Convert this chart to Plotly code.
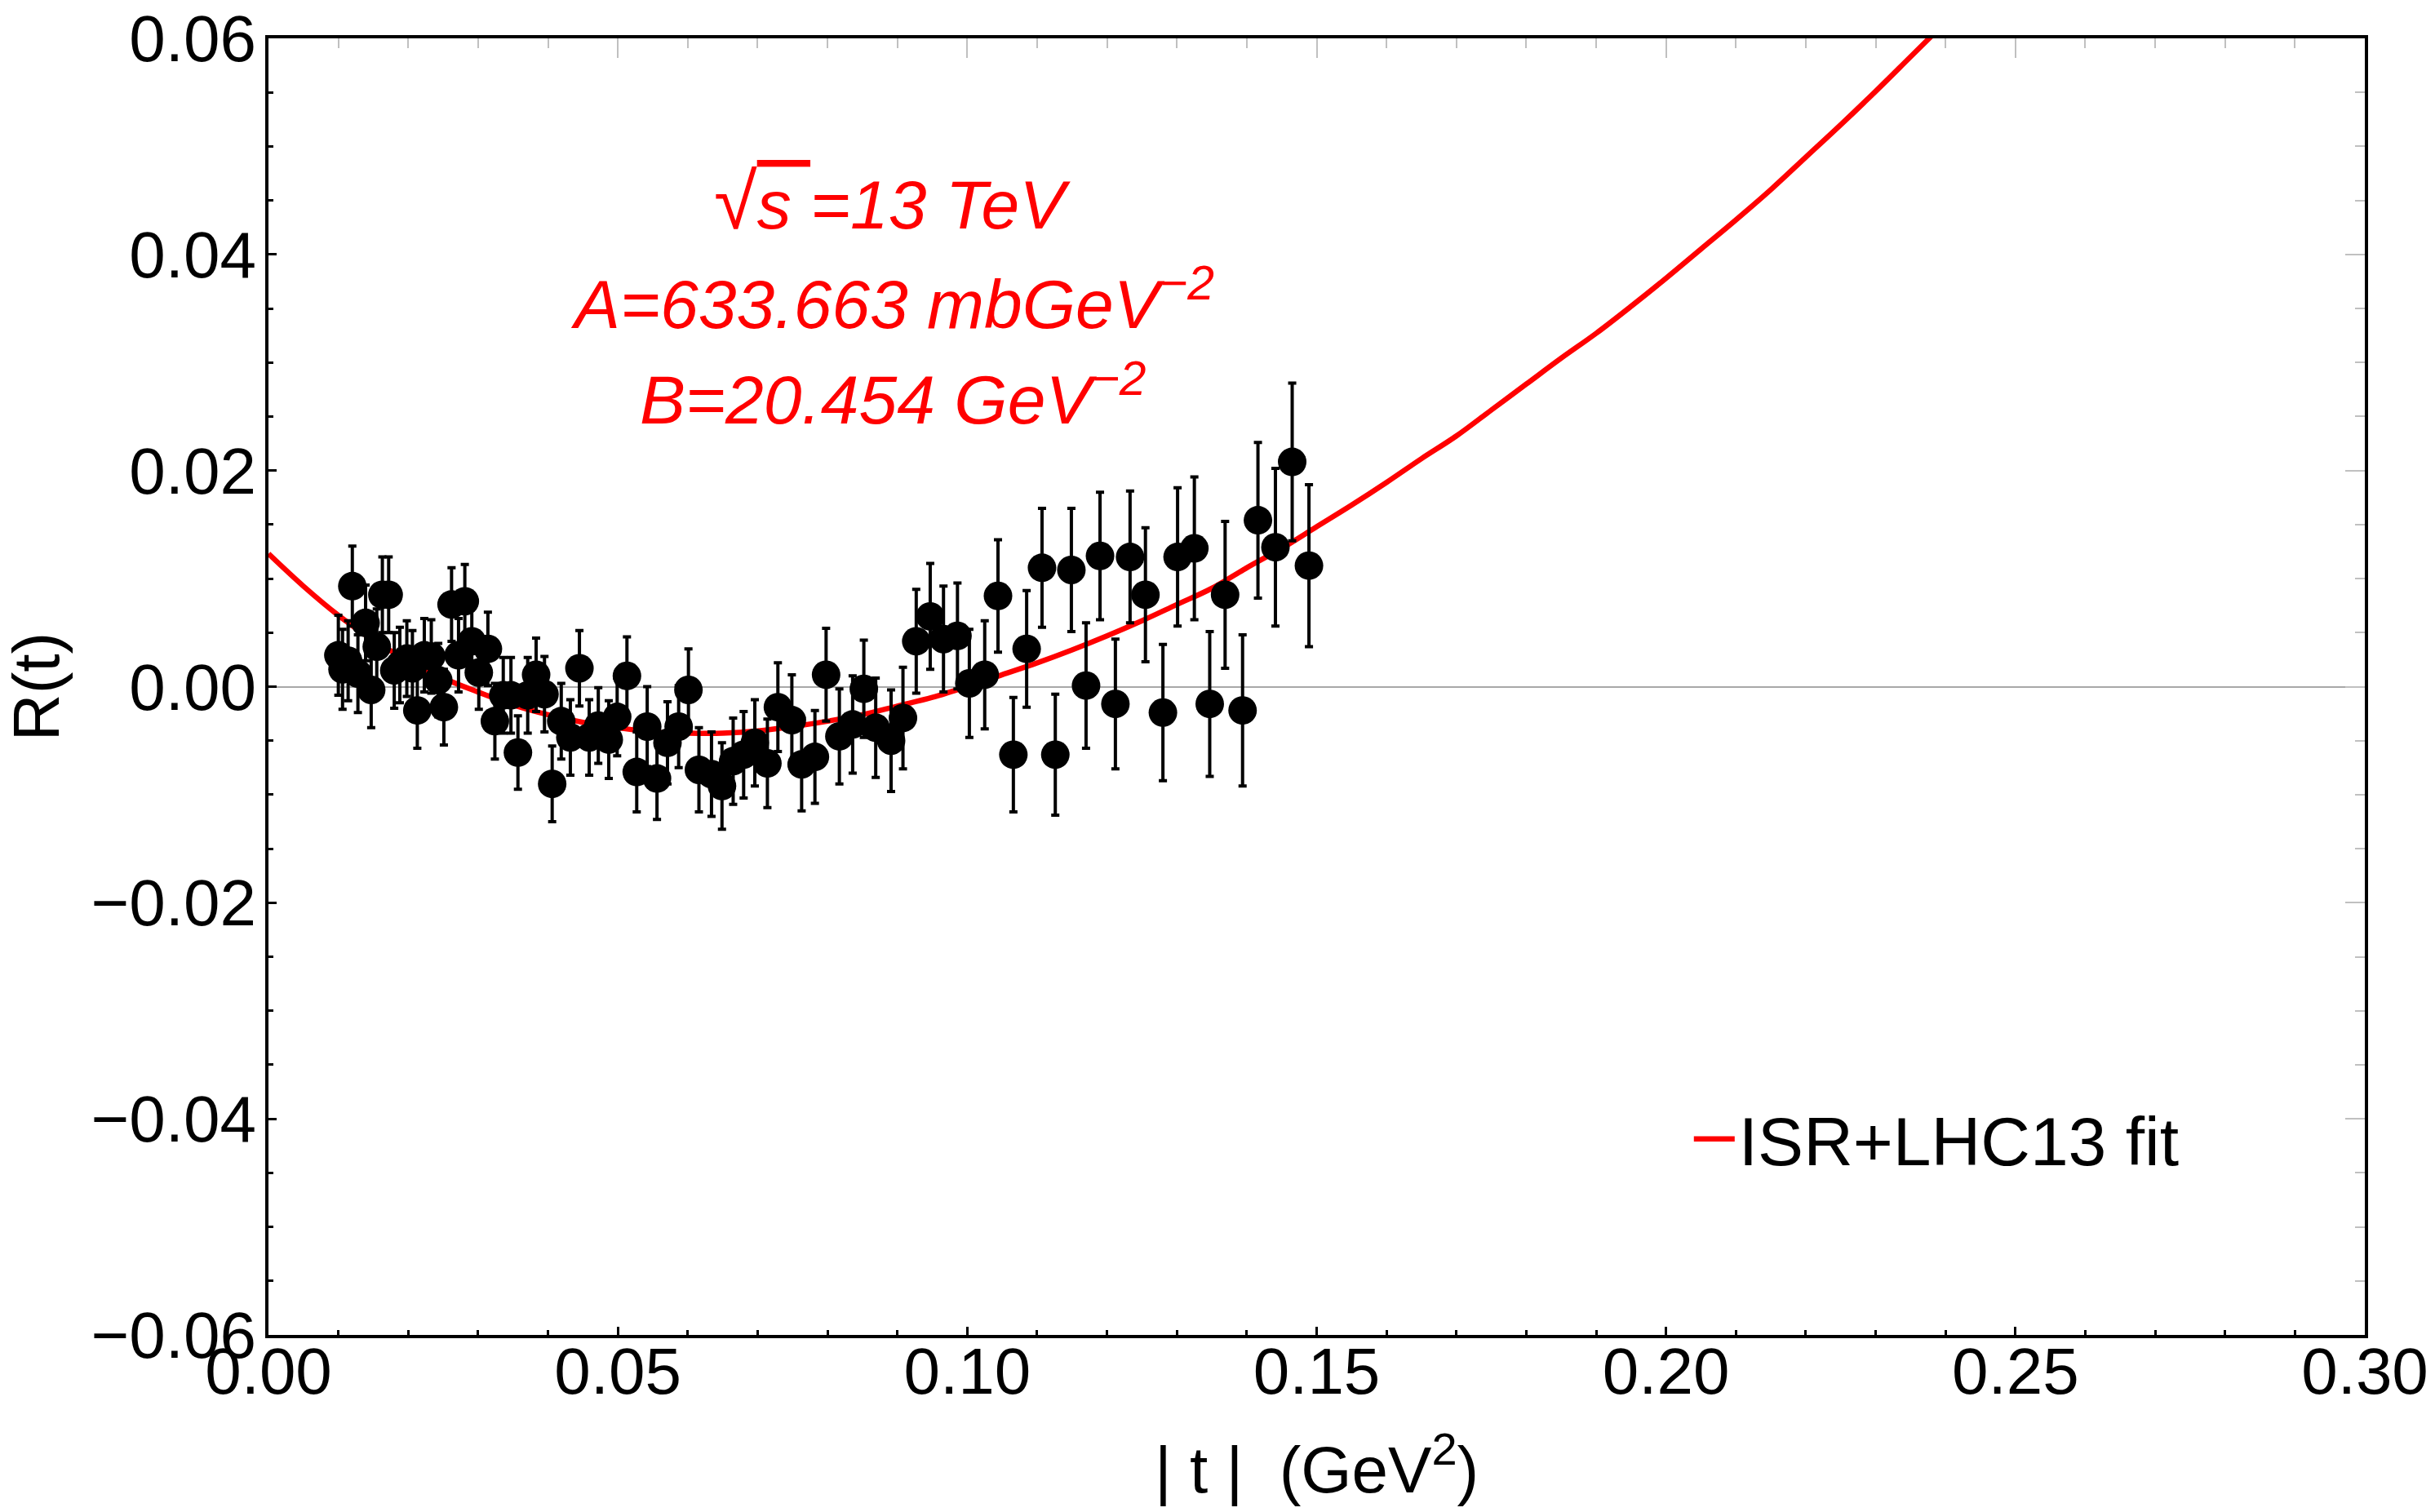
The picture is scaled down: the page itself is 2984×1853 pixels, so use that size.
import plotly.graph_objects as go

# ---- data ----
t_data = [0.0100, 0.0106, 0.0114, 0.0120, 0.0128, 0.0139, 0.0147, 0.0155, 0.0163, 0.0172,
          0.0180, 0.0188, 0.0198, 0.0206, 0.0213, 0.0223, 0.0233, 0.0243, 0.0251, 0.0262,
          0.0272, 0.0281, 0.0291, 0.0301, 0.0314, 0.0324, 0.0336, 0.0347, 0.0357, 0.0371,
          0.0383, 0.0395, 0.0406, 0.0419, 0.0432, 0.0445, 0.0459, 0.0472, 0.0487, 0.0499,
          0.0513, 0.0527, 0.0542, 0.0556, 0.0571, 0.0587, 0.0601, 0.0616, 0.0634, 0.0649,
          0.0665, 0.0680, 0.0696, 0.0714, 0.0729, 0.0749, 0.0763, 0.0782, 0.0798, 0.0817,
          0.0836, 0.0852, 0.0869, 0.0891, 0.0908, 0.0927, 0.0947, 0.0966, 0.0986, 0.1003,
          0.1025, 0.1044, 0.1066, 0.1085, 0.1107, 0.1126, 0.1149, 0.1170, 0.1190, 0.1212,
          0.1233, 0.1255, 0.1280, 0.1301, 0.1325, 0.1347, 0.1369, 0.1394, 0.1416, 0.1441,
          0.1465, 0.1489]
R_data = [0.0029, 0.0016, 0.0024, 0.0093, 0.0012, 0.0059, -0.0003, 0.0037, 0.0085, 0.0085,
          0.0015, 0.0020, 0.0026, 0.0017, -0.0022, 0.0029, 0.0028, 0.0006, -0.0019, 0.0076,
          0.0029, 0.0079, 0.0042, 0.0013, 0.0035, -0.0032, -0.0008, -0.0008, -0.0061, -0.0008,
          0.0011, -0.0007, -0.0090, -0.0032, -0.0047, 0.0017, -0.0047, -0.0036, -0.0049, -0.0028,
          0.0010, -0.0079, -0.0037, -0.0085, -0.0052, -0.0037, -0.0003, -0.0077, -0.0081, -0.0092,
          -0.0069, -0.0063, -0.0052, -0.0071, -0.0019, -0.0031, -0.0072, -0.0065, 0.0011, -0.0046,
          -0.0035, -0.0002, -0.0038, -0.0050, -0.0029, 0.0042, 0.0065, 0.0044, 0.0047, 0.0003,
          0.0011, 0.0084, -0.0063, 0.0035, 0.0110, -0.0063, 0.0108, 0.0001, 0.0121, -0.0016,
          0.0120, 0.0085, -0.0024, 0.0120, 0.0128, -0.0016, 0.0085, -0.0022, 0.0154, 0.0129,
          0.0208, 0.0112]
R_err = [0.0037, 0.0037, 0.0037, 0.0037, 0.0036, 0.0035, 0.0035, 0.0035, 0.0035, 0.0035,
         0.0035, 0.0035, 0.0035, 0.0035, 0.0035, 0.0034, 0.0034, 0.0034, 0.0035, 0.0034,
         0.0034, 0.0034, 0.0034, 0.0034, 0.0034, 0.0035, 0.0035, 0.0035, 0.0034, 0.0035,
         0.0034, 0.0035, 0.0035, 0.0035, 0.0035, 0.0035, 0.0035, 0.0035, 0.0036, 0.0036,
         0.0036, 0.0037, 0.0037, 0.0038, 0.0038, 0.0038, 0.0038, 0.0039, 0.0039, 0.0040,
         0.0040, 0.0040, 0.0040, 0.0041, 0.0041, 0.0042, 0.0043, 0.0043, 0.0043, 0.0044,
         0.0045, 0.0045, 0.0046, 0.0047, 0.0047, 0.0048, 0.0049, 0.0049, 0.0049, 0.0050,
         0.0050, 0.0052, 0.0053, 0.0054, 0.0055, 0.0056, 0.0057, 0.0058, 0.0059, 0.0060,
         0.0061, 0.0062, 0.0063, 0.0064, 0.0066, 0.0067, 0.0068, 0.0070, 0.0072, 0.0073,
         0.0073, 0.0075]

t_fit = [0.000, 0.005, 0.010, 0.015, 0.020, 0.025, 0.030, 0.035, 0.040, 0.045,
         0.050, 0.055, 0.060, 0.065, 0.070, 0.075, 0.080, 0.085, 0.090, 0.095,
         0.100, 0.105, 0.110, 0.115, 0.120, 0.125, 0.130, 0.135, 0.140, 0.145,
         0.150, 0.155, 0.160, 0.165, 0.170, 0.175, 0.180, 0.185, 0.190, 0.195,
         0.200, 0.205, 0.210, 0.215, 0.220, 0.225, 0.230, 0.235, 0.240]
R_fit = [0.0123, 0.0093, 0.0066, 0.0043, 0.0024, 0.0008, -0.0005, -0.0017, -0.0026, -0.0033,
         -0.0038, -0.0042, -0.0043, -0.0043, -0.0041, -0.0037, -0.0032, -0.0026, -0.0018, -0.0010,
         0.0000, 0.0011, 0.0022, 0.0034, 0.0047, 0.0061, 0.0076, 0.0091, 0.0110, 0.0128,
         0.0148, 0.0168, 0.0189, 0.0211, 0.0232, 0.0256, 0.0280, 0.0304, 0.0327, 0.0352,
         0.0378, 0.0405, 0.0432, 0.0460, 0.0490, 0.0520, 0.0551, 0.0583, 0.0615]

x_ticks = [0.00, 0.05, 0.10, 0.15, 0.20, 0.25, 0.30]
y_ticks = [-0.06, -0.04, -0.02, 0.00, 0.02, 0.04, 0.06]

info_lines = ["<i><span style='font-size:96px'>\u221a</span><span style='text-decoration:overline'>s </span>=13 TeV</i>",
              "<i>A=633.663 mbGeV<sup>\u22122</sup></i>",
              "<i>B=20.454 GeV<sup>\u22122</sup></i>"]
info_y = [0.0449, 0.0358, 0.0270]
info_x = 0.0893

x_title = "|\u00a0t\u00a0|\u00a0\u00a0(GeV<sup>2</sup>)"
y_title = "R(t)"

FONT = "Liberation Sans, Arial, sans-serif"

fig = go.Figure()

fig.add_trace(go.Scatter(
    x=t_fit, y=R_fit, mode="lines", name="ISR+LHC13 fit",
    line=dict(color="#ff0000", width=6.5, shape="spline"),
    xaxis="x", yaxis="y"))

fig.add_trace(go.Scatter(
    x=t_data, y=R_data, mode="markers", showlegend=False,
    marker=dict(color="black", size=35),
    error_y=dict(type="data", array=R_err, visible=True, color="black",
                 thickness=4, width=5),
    xaxis="x2", yaxis="y2"))

fig.update_layout(
    width=2984, height=1853,
    margin=dict(l=329, r=86, t=47, b=217),
    paper_bgcolor="white", plot_bgcolor="white",
    font=dict(family=FONT, size=80, color="black"),
    xaxis=dict(
        range=[0, 0.3], tickvals=x_ticks, tickformat=".2f",
        showline=True, linecolor="black", linewidth=4, mirror=True,
        ticks="inside", ticklen=10, tickwidth=3, tickcolor="black",
        minor=dict(dtick=0.01, ticks="inside", ticklen=6, tickwidth=2.5, tickcolor="black"),
        showgrid=False, zeroline=False, automargin=False,
        tickfont=dict(size=80), ticklabelstandoff=-28),
    yaxis=dict(
        range=[-0.06, 0.06], tickvals=y_ticks, tickformat=".2f",
        showline=True, linecolor="black", linewidth=4, mirror=True,
        ticks="inside", ticklen=10, tickwidth=3, tickcolor="black",
        minor=dict(dtick=0.005, ticks="inside", ticklen=6, tickwidth=2.5, tickcolor="black"),
        showgrid=False, zeroline=True, zerolinecolor="#a8a8a8", zerolinewidth=2,
        automargin=False, tickfont=dict(size=80), ticklabelstandoff=-5,
        title=dict(text=y_title, font=dict(size=80), standoff=55)),
    xaxis2=dict(
        range=[0, 0.3], overlaying="x", side="top", anchor="y2",
        tickvals=x_ticks, showticklabels=False, showline=False, showgrid=False,
        zeroline=False, ticks="inside", ticklen=24, tickwidth=1.5, tickcolor="#c0c0c0",
        minor=dict(dtick=0.01, ticks="inside", ticklen=12, tickwidth=1.5, tickcolor="#c0c0c0"),
        automargin=False),
    yaxis2=dict(
        range=[-0.06, 0.06], overlaying="y", side="right", anchor="x2",
        tickvals=y_ticks, showticklabels=False, showline=False, showgrid=False,
        zeroline=False, ticks="inside", ticklen=24, tickwidth=1.5, tickcolor="#c0c0c0",
        minor=dict(dtick=0.005, ticks="inside", ticklen=12, tickwidth=1.5, tickcolor="#c0c0c0"),
        automargin=False),
    legend=dict(x=0.678, y=0.151, xanchor="left", yanchor="middle", itemwidth=50,
                bgcolor="rgba(0,0,0,0)", font=dict(size=84)),
)

# x-axis title placed just below the tick labels
fig.add_annotation(x=0.5, y=-0.100, xref="paper", yref="paper", text=x_title,
                   showarrow=False, font=dict(size=80, color="black", family=FONT),
                   xanchor="center", yanchor="middle")

for txt, yv in zip(info_lines, info_y):
    fig.add_annotation(x=info_x, y=yv, xref="x", yref="y", text=txt, showarrow=False,
                       font=dict(size=84, color="#ff0000", family=FONT),
                       xanchor="center", yanchor="middle")

fig.write_html("out.html")
